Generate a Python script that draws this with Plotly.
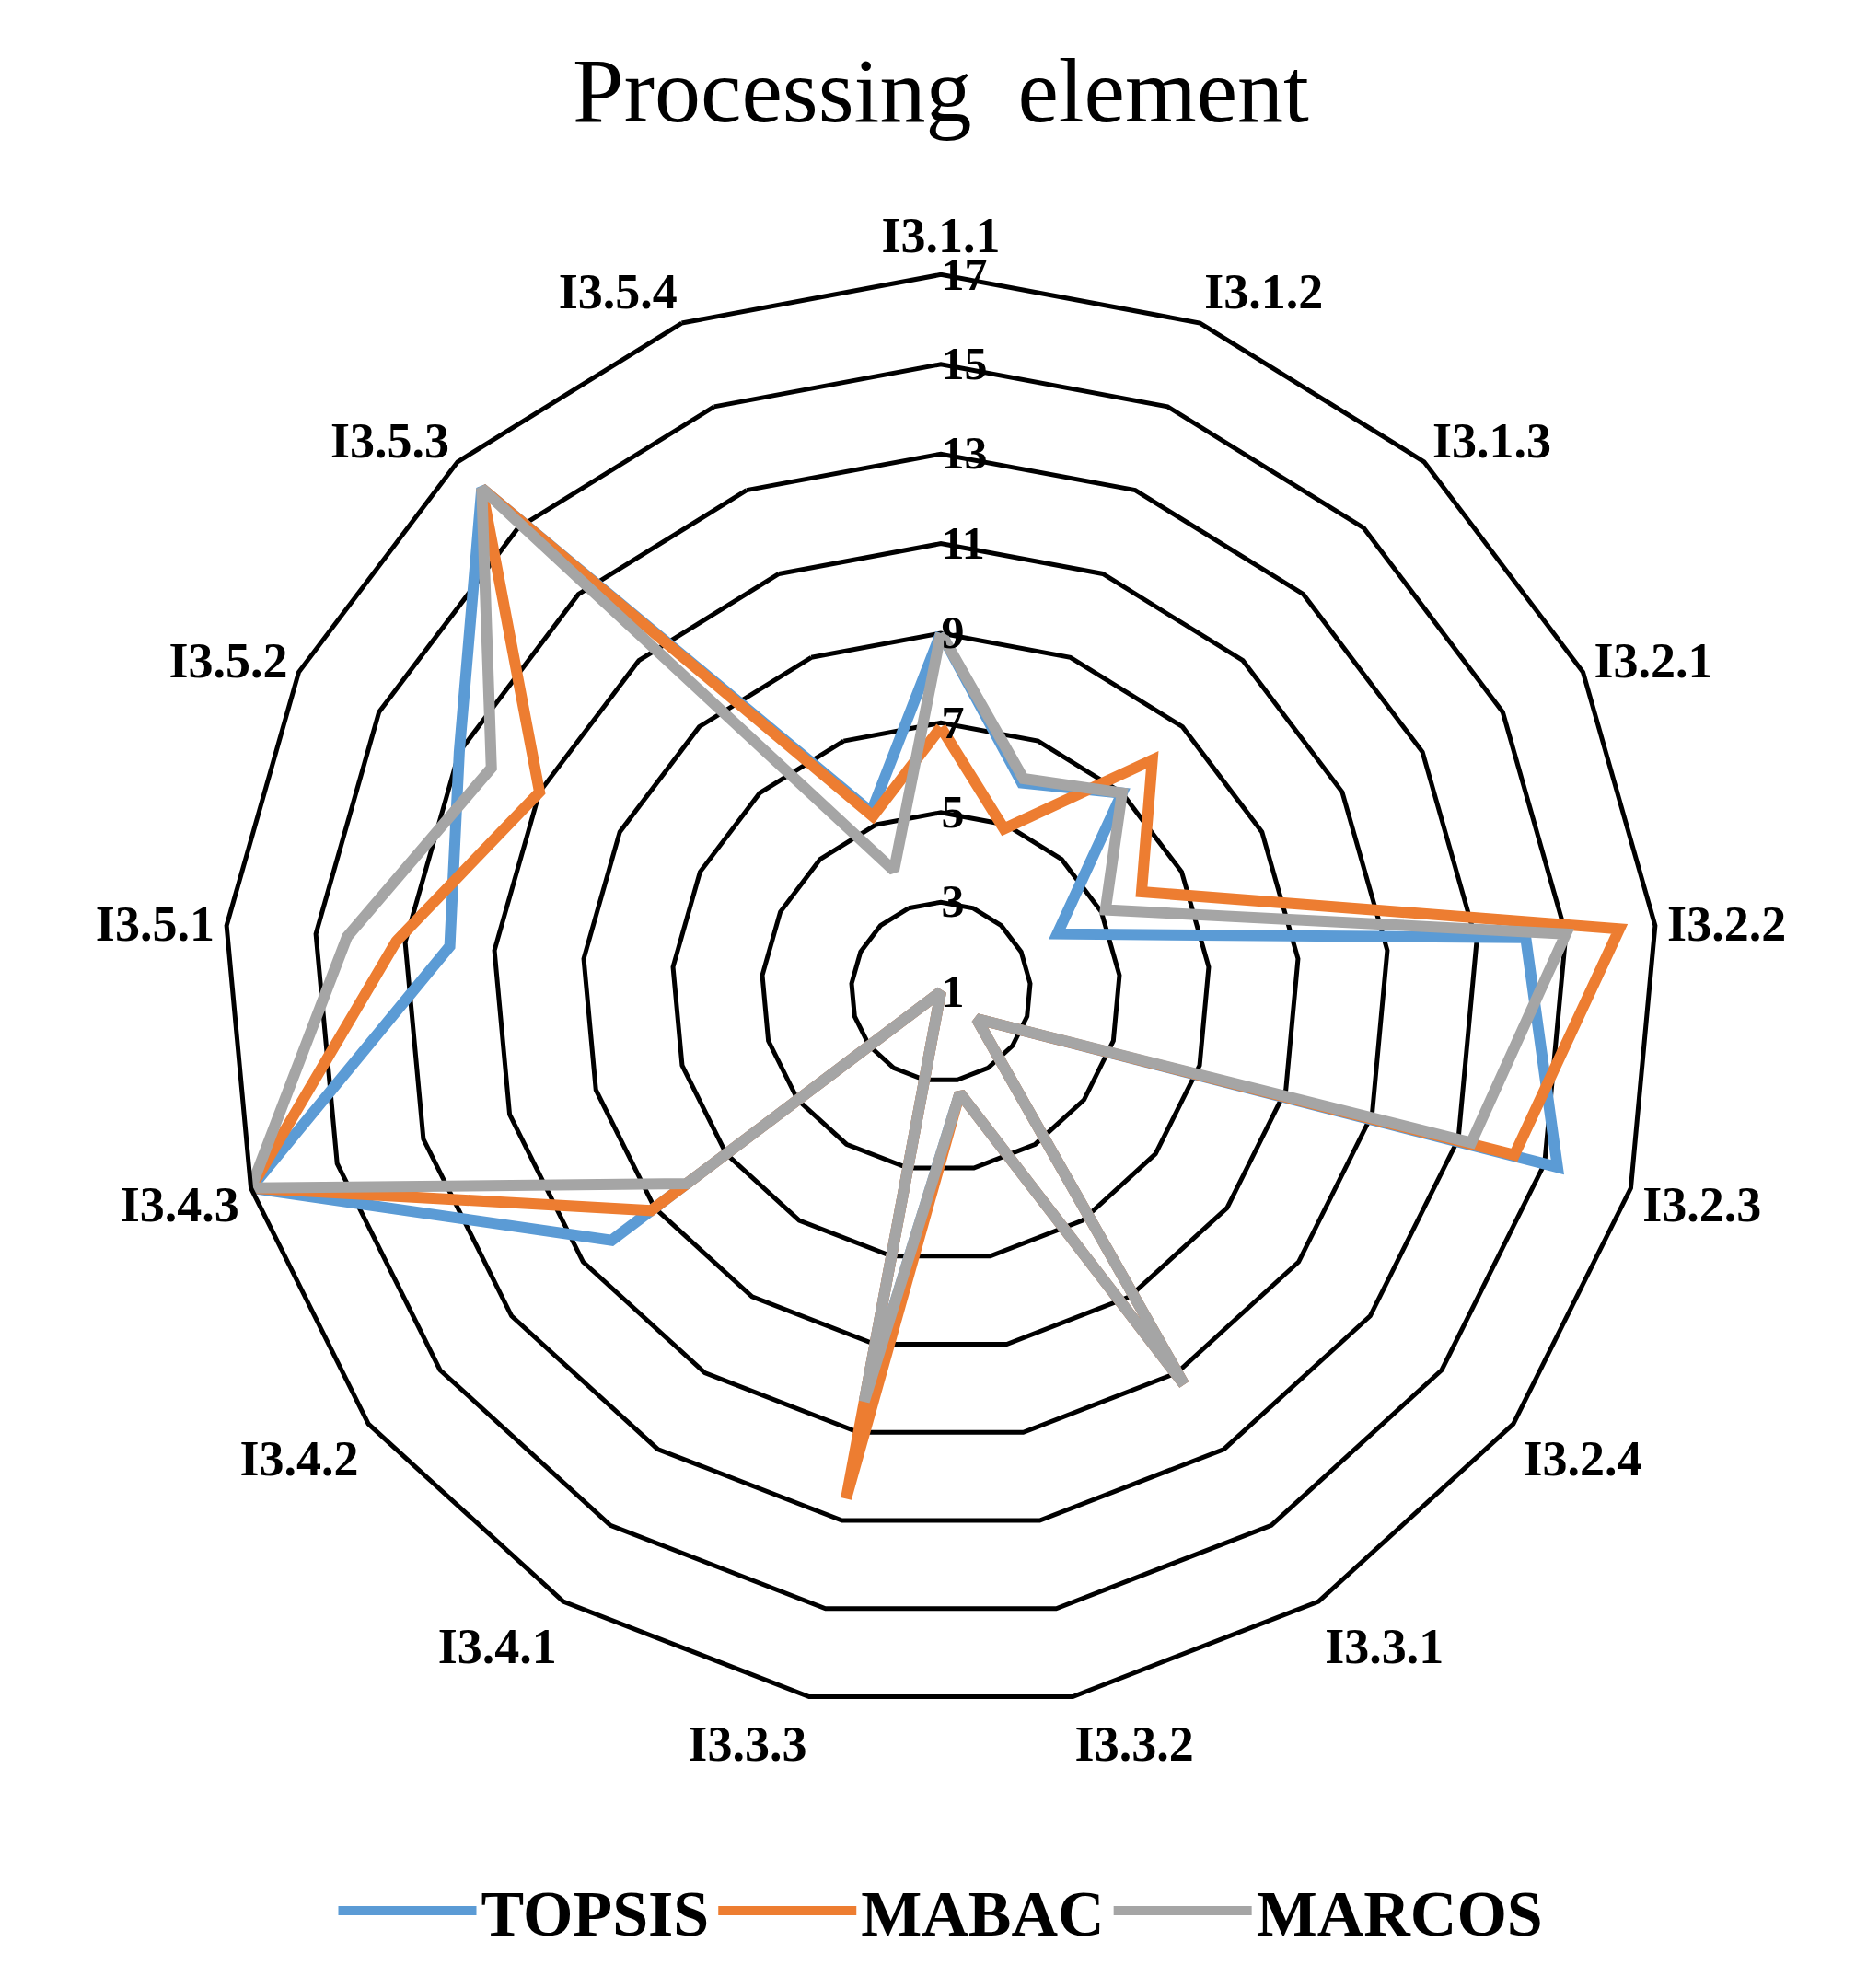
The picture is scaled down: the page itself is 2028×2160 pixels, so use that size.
import plotly.graph_objects as go

categories = ["I3.1.1","I3.1.2","I3.1.3","I3.2.1","I3.2.2","I3.2.3","I3.2.4","I3.3.1","I3.3.2",
              "I3.3.3","I3.4.1","I3.4.2","I3.4.3","I3.5.1","I3.5.2","I3.5.3","I3.5.4"]
topsis = [9, 6, 7, 3.9, 14.1, 15.3, 2, 11.3, 3.3, 10.3, 1, 10.2, 17, 12, 13, 16.2, 5.3]
mabac  = [6.9, 4.9, 8, 6, 16.2, 14.3, 2, 11.3, 3.3, 12.5, 1, 9.1, 17, 13.2, 11, 16.2, 5.2]
marcos = [9, 6.1, 7, 5.1, 15, 13.3, 2, 11.3, 3.3, 10.3, 1, 8.1, 17, 14.3, 12.2, 16.2, 3.9]
tick_vals = [1, 3, 5, 7, 9, 11, 13, 15, 17]

series = [("TOPSIS", topsis, "#5B9BD5"), ("MABAC", mabac, "#ED7D31"), ("MARCOS", marcos, "#A5A5A5")]
fig = go.Figure()
for name, vals, col in series:
    fig.add_trace(go.Scatterpolar(r=vals + vals[:1], theta=categories + categories[:1],
                                  mode="lines", name="<b>" + name + "</b>",
                                  line=dict(color=col, width=12)))

font = "Liberation Serif"
fig.update_layout(
    width=2028, height=2160, paper_bgcolor="white", plot_bgcolor="white",
    title=dict(text="Processing  element", x=0.5, y=0.975, xanchor="center",
               font=dict(family=font, size=100, color="black")),
    polar=dict(
        domain=dict(x=[0.1, 0.9], y=[0.13, 0.88]),
        gridshape="linear", bgcolor="white",
        radialaxis=dict(range=[1, 17], tickvals=tick_vals, ticktext=["<b>%d</b>" % v for v in tick_vals],
                        angle=90, tickangle=90,
                        showline=False, gridcolor="black", gridwidth=5, ticks="",
                        tickfont=dict(family=font, size=50, color="black")),
        angularaxis=dict(direction="clockwise", rotation=90, showgrid=False,
                         linecolor="black", linewidth=5, ticks="",
                         tickvals=categories, ticktext=["<b>%s</b>" % c for c in categories],
                         tickfont=dict(family=font, size=54, color="black")),
    ),
    legend=dict(orientation="h", x=0.5, xanchor="center", y=0.0, yanchor="bottom",
                font=dict(family=font, size=70, color="black"), itemwidth=150),
    margin=dict(l=40, r=40, t=40, b=40),
)
fig.write_html("out.html")
